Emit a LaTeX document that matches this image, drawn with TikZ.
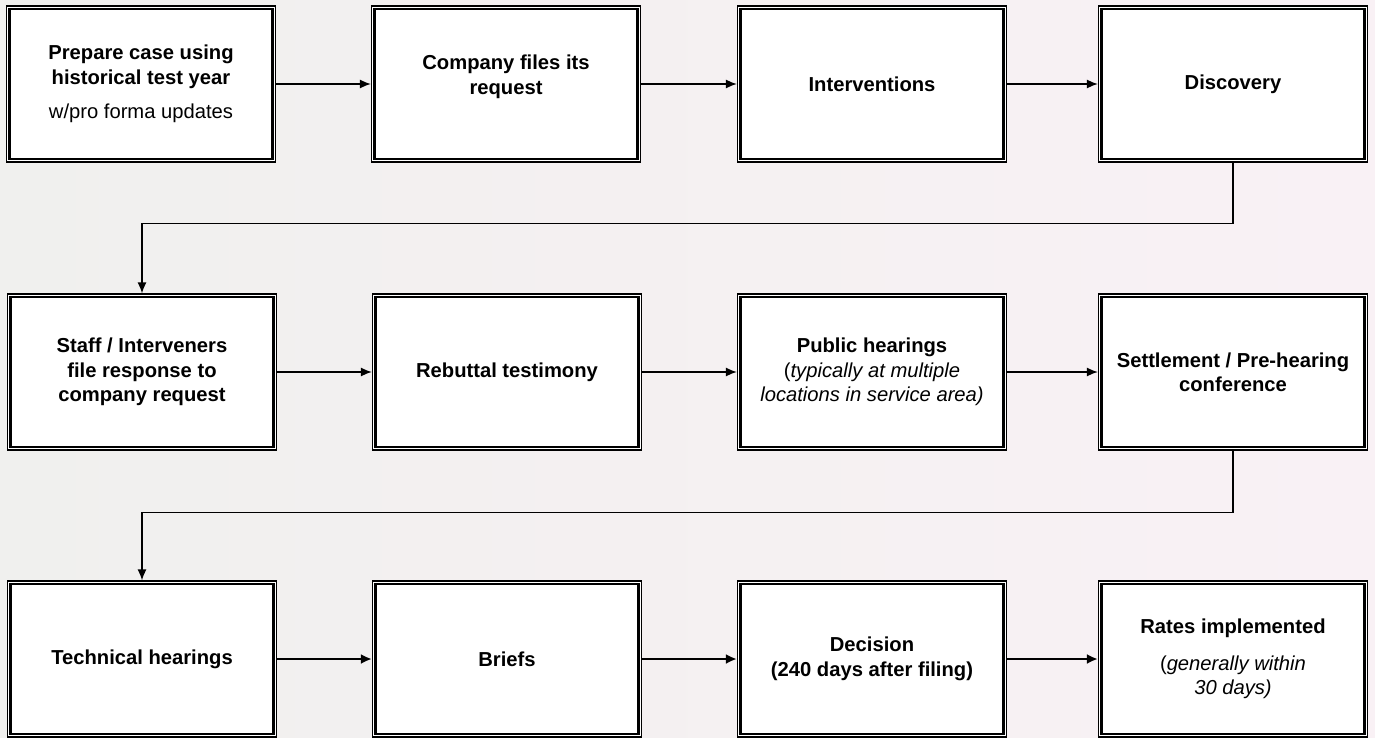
\documentclass[tikz,border=0pt]{standalone}
\usepackage{fontspec}
\setmainfont{Liberation Sans}
\usetikzlibrary{arrows.meta}
\begin{document}
\begin{tikzpicture}[x=0.5pt,y=-0.5pt,font=\fontsize{10.1}{12.2}\selectfont,
  stepbox/.style={draw, line width=0.6pt, fill=white, minimum width=134.5pt,
    minimum height=78pt, inner sep=0pt, align=center},
  flow/.style={line width=0.7pt, -{Latex[length=5.5pt,width=4.5pt]}},
  flowthick/.style={line width=1.4pt, -{Latex[length=5.5pt,width=5pt]}}]
\definecolor{bgleft}{RGB}{240,240,238}
\definecolor{bgright}{RGB}{249,241,245}
\useasboundingbox (0,0) rectangle (1375,738);
\shade[left color=bgleft, right color=bgright] (0,0) rectangle (1375,738);

% first row
\node[stepbox] (prep) at (141,84) {\textbf{Prepare case using}\\\textbf{historical test year}\\[5pt]w/pro forma updates};
\node[stepbox] (files) at (506,84) {\textbf{Company files its}\\\textbf{request}\\[-3pt]{}};
\node[stepbox] (interv) at (872,84) {\textbf{Interventions}};
\node[stepbox] (disc) at (1233,84) {\textbf{Discovery}};

% second row
\node[stepbox] (staff) at (142,372) {\textbf{Staff / Interveners}\\\textbf{file response to}\\\textbf{company request}};
\node[stepbox] (rebut) at (507,372) {\textbf{Rebuttal testimony}};
\node[stepbox] (public) at (872,372) {\textbf{Public hearings}\\(\textit{typically at multiple}\\\textit{locations in service area)}};
\node[stepbox] (settle) at (1233,372) {\textbf{Settlement / Pre-hearing}\\\textbf{conference}};

% third row
\node[stepbox] (tech) at (142,659) {\textbf{Technical hearings}};
\node[stepbox] (briefs) at (507,659) {\textbf{Briefs}};
\node[stepbox] (decision) at (872,659) {\textbf{Decision}\\\textbf{(240 days after filing)}};
\node[stepbox] (rates) at (1233,659) {\textbf{Rates implemented}\\[6pt](\textit{generally within}\\\textit{30 days)}};

% inner frame of each box
\foreach \n in {prep,files,interv,disc,staff,rebut,public,settle,tech,briefs,decision,rates}
  \draw[line width=1.2pt] ([shift={(3.5,3.5)}]\n.north west) rectangle ([shift={(-3.5,-3.5)}]\n.south east);

% connectors
\draw[flow] (prep) -- (files);
\draw[flow] (files) -- (interv);
\draw[flow] (interv) -- (disc);
\draw[flow] (disc.south) -- ++(0,61) -| (staff.north);
\draw[flow] (staff) -- (rebut);
\draw[flow] (rebut) -- (public);
\draw[flow] (public) -- (settle);
\draw[flow] (settle.south) -- ++(0,62) -| (tech.north);
\draw[flowthick] (tech) -- (briefs);
\draw[flowthick] (briefs) -- (decision);
\draw[flowthick] (decision) -- (rates);
\end{tikzpicture}
\end{document}
